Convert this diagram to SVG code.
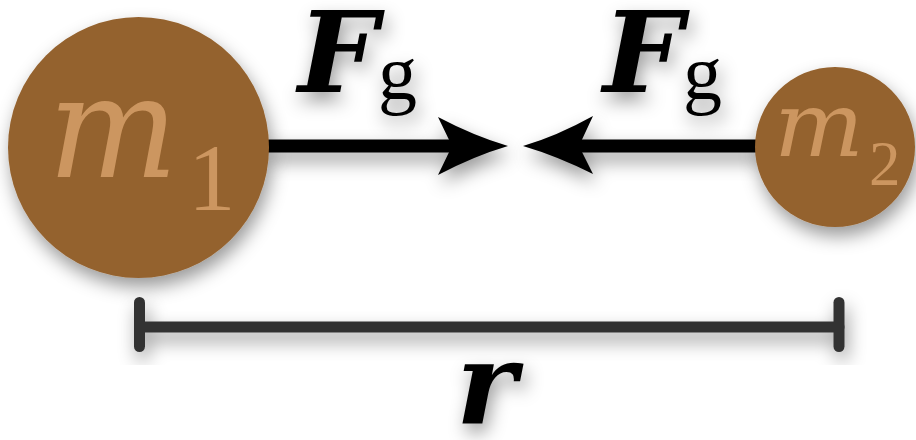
<svg xmlns="http://www.w3.org/2000/svg" width="916" height="440" viewBox="0 0 916 440">
<defs>
<filter id="sh" x="-30%" y="-30%" width="160%" height="170%">
<feDropShadow dx="3" dy="9" stdDeviation="9" flood-color="#000" flood-opacity="0.4"/>
</filter>
<style>
.mass{fill:#94622f;filter:url(#sh)}
.ml{font-family:"DejaVu Serif",serif;font-style:italic;fill:#cc9660}
.sub{font-family:"Liberation Serif",serif;fill:#cc9660}
.F{font-family:"DejaVu Serif",serif;font-style:italic;font-weight:bold;fill:#000}
.g{font-family:"Liberation Serif",serif;fill:#000}
.shaft{stroke:#000;stroke-width:13;fill:none}
.head{fill:#000}
.bar{stroke:#333;stroke-width:11;stroke-linecap:round;fill:none}
.lbl{filter:url(#sh)}
</style>
</defs>
<rect width="916" height="440" fill="#fff"/>
<g id="connectors">
<g id="force1" filter="url(#sh)">
<line class="shaft" x1="266" y1="146" x2="456" y2="146"/>
<path class="head" d="M508,146 Q474,136 438,117 L452,146 L438,175 Q474,156 508,146 Z"/>
</g>
<g id="force2" filter="url(#sh)">
<line class="shaft" x1="760" y1="146" x2="575" y2="146"/>
<path class="head" d="M523,146 Q557,136 593,116 L579,146 L593,174 Q557,156 523,146 Z"/>
</g>
<g id="distance" filter="url(#sh)">
<line class="bar" x1="139.5" y1="327" x2="839" y2="327"/>
<line class="bar" x1="139.5" y1="302.5" x2="139.5" y2="346.5"/>
<line class="bar" x1="839" y1="302.5" x2="839" y2="346.5"/>
</g>
</g>
<g id="m1">
<circle class="mass" cx="138.5" cy="147.5" r="130.5"/>
<text class="ml" x="48" y="177" font-size="143" textLength="130" lengthAdjust="spacingAndGlyphs">m</text>
<text class="sub" x="188" y="210" font-size="95">1</text>
</g>
<g id="m2">
<circle class="mass" cx="835" cy="147" r="80"/>
<text class="ml" x="774" y="156" font-size="89" textLength="90" lengthAdjust="spacingAndGlyphs">m</text>
<text class="sub" x="869" y="185" font-size="63">2</text>
</g>
<g id="label-F1" class="lbl">
<text class="F" x="298" y="92" font-size="113">F</text>
<text class="g" x="378" y="99" font-size="78">g</text>
</g>
<g id="label-F2" class="lbl">
<text class="F" x="603" y="92" font-size="113">F</text>
<text class="g" x="683" y="99" font-size="78">g</text>
</g>
<g id="label-r" class="lbl">
<text class="F" x="456" y="424" font-size="115">r</text>
</g>
</svg>
